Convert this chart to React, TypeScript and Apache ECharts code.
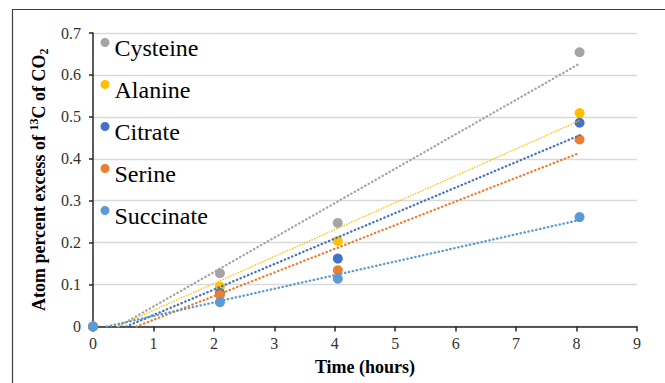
import React, { useEffect, useRef } from "react";
import * as echarts from "echarts";

const seriesNames = ["Cysteine", "Alanine", "Citrate", "Serine", "Succinate"];
const timeHours = [0, 2.1, 4.05, 8.05];
const cysteine = [0, 0.127, 0.247, 0.654];
const alanine = [0, 0.095, 0.204, 0.509];
const citrate = [0, 0.08, 0.162, 0.486];
const serine = [0, 0.075, 0.134, 0.446];
const succinate = [0, 0.058, 0.114, 0.261];
const seriesValues = [cysteine, alanine, citrate, serine, succinate];
const colors = ["#A5A5A5", "#FFC000", "#4472C4", "#ED7D31", "#5B9BD5"];
// linear trendlines: x where each crosses 0, and its value at the last time point
const trendStartX = [0.42, 0.4, 0.55, 0.72, 0.23];
const trendEndX = 8.05;
const trendEndY = [0.627, 0.491, 0.456, 0.414, 0.254];
const xTicks = { min: 0, max: 9, interval: 1 };
const yTicks = { min: 0, max: 0.7, interval: 0.1 };

const SERIF = "Times New Roman";
// legend dot sitting in the top part of a 9x19 box, so it rides above the text's middle
const LEGEND_DOT = "path://M4.5,0A4.5,4.5,0,1,1,4.5,9A4.5,4.5,0,1,1,4.5,0ZM0,19L0.01,19L0,19Z";

export default function App() {
  const ref = useRef<HTMLDivElement>(null);
  useEffect(() => {
    if (!ref.current) return;
    const chart = echarts.init(ref.current, undefined, { renderer: "svg" });
    const scatter = seriesNames.map((name, i) => ({
      name,
      type: "scatter",
      symbol: "circle",
      symbolSize: 10,
      itemStyle: { color: colors[i], opacity: 1 },
      data: timeHours.map((t, j) => [t, seriesValues[i][j]]),
      z: 2,
    }));
    const trends = seriesNames.map((name, i) => ({
      name: name + " trend",
      type: "line",
      showSymbol: false,
      symbol: "none",
      silent: true,
      lineStyle: {
        color: colors[i],
        width: i === 1 ? 1.4 : 2.3,
        type: i === 1 ? [0.3, 2.4] : [0.4, 3.6],
        cap: "round",
      },
      data: [
        [trendStartX[i], 0],
        [trendEndX, trendEndY[i]],
      ],
      z: 3,
    }));
    chart.setOption({
      animation: false,
      backgroundColor: "#ffffff",
      textStyle: { fontFamily: SERIF },
      grid: { left: 93, right: 28, top: 33, bottom: 56.5, containLabel: false },
      legend: {
        data: seriesNames,
        orient: "vertical",
        left: 100.5,
        top: 26.5,
        padding: 0,
        itemWidth: 9,
        itemHeight: 19,
        itemGap: 0,
        icon: LEGEND_DOT,
        textStyle: {
          fontFamily: SERIF,
          fontSize: 24,
          color: "#000",
          lineHeight: 42,
        },
      },
      xAxis: {
        type: "value",
        min: xTicks.min,
        max: xTicks.max,
        interval: xTicks.interval,
        name: "Time (hours)",
        nameLocation: "middle",
        nameGap: 31,
        nameTextStyle: { fontFamily: SERIF, fontSize: 18, fontWeight: "bold", color: "#000" },
        axisLine: { show: true, lineStyle: { color: "#262626", width: 1.5 } },
        axisTick: { show: true, length: 5, lineStyle: { color: "#262626", width: 1.5 } },
        axisLabel: { fontFamily: SERIF, fontSize: 16, color: "#333", margin: 9 },
        splitLine: { show: false },
      },
      yAxis: {
        type: "value",
        min: yTicks.min,
        max: yTicks.max,
        interval: yTicks.interval,
        name: "{a|Atom percent excess of }{sup|13}{a|C of CO}{sub|2}",
        nameLocation: "middle",
        nameGap: 37,
        nameTextStyle: {
          fontFamily: SERIF,
          fontSize: 18,
          fontWeight: "bold",
          color: "#000",
          rich: {
            a: { fontFamily: SERIF, fontSize: 18, fontWeight: "bold", color: "#000", lineHeight: 22 },
            sup: { fontFamily: SERIF, fontSize: 12, fontWeight: "bold", color: "#000", verticalAlign: "top", lineHeight: 12 },
            sub: { fontFamily: SERIF, fontSize: 12, fontWeight: "bold", color: "#000", verticalAlign: "bottom", lineHeight: 12 },
          },
        },
        axisLine: { show: true, lineStyle: { color: "#262626", width: 1.5 } },
        axisTick: { show: true, length: 4, lineStyle: { color: "#262626", width: 1.5 } },
        axisLabel: { fontFamily: SERIF, fontSize: 16, color: "#333", margin: 12 },
        splitLine: { show: true, lineStyle: { color: "#D9D9D9", width: 1.3 } },
      },
      graphic: [
        {
          type: "rect",
          shape: { x: 12.5, y: 9.5, width: 700, height: 420 },
          style: { fill: "none", stroke: "#404040", lineWidth: 1.2 },
          silent: true,
          z: -10,
        },
      ],
      series: [...scatter, ...trends],
    });
    return () => chart.dispose();
  }, []);
  return (
    <div
      ref={ref}
      style={{ position: "fixed", left: 0, top: 0, width: 665, height: 383 }}
    />
  );
}
